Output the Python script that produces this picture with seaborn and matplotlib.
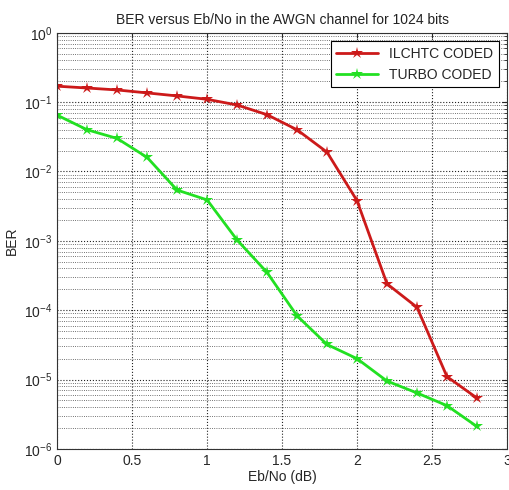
import matplotlib
matplotlib.use("Agg")
import matplotlib.pyplot as plt
import seaborn as sns
import pandas as pd
from matplotlib.ticker import LogLocator, NullFormatter

# valeurs
ebno = [0, 0.2, 0.4, 0.6, 0.8, 1.0, 1.2, 1.4, 1.6, 1.8, 2.0, 2.2, 2.4, 2.6, 2.8]
ber_ilchtc = [0.17, 0.16, 0.15, 0.136, 0.123, 0.11, 0.091, 0.066, 0.040, 0.019,
              0.0038, 2.4e-4, 1.1e-4, 1.1e-5, 5.4e-6]
ber_turbo = [0.065, 0.040, 0.030, 0.016, 0.0054, 0.0039, 0.00103, 3.5e-4, 8.3e-5,
             3.2e-5, 2.0e-5, 9.5e-6, 6.4e-6, 4.2e-6, 2.1e-6]
labels = ['ILCHTC CODED', 'TURBO CODED']

df = pd.concat([
    pd.DataFrame({'EbNo': ebno, 'BER': ber_ilchtc, 'code': labels[0]}),
    pd.DataFrame({'EbNo': ebno, 'BER': ber_turbo, 'code': labels[1]}),
])

sns.set_style("white")
plt.rcParams['font.family'] = ['Liberation Sans', 'DejaVu Sans']

fig = plt.figure(figsize=(5.1, 4.9), dpi=100)
ax = fig.add_axes([0.112, 0.084, 0.882, 0.849])

sns.lineplot(data=df, x='EbNo', y='BER', hue='code',
             palette={labels[0]: '#cc1a1a', labels[1]: '#22e022'},
             marker='*', markersize=9, markeredgewidth=0, linewidth=2,
             ax=ax)

ax.set_yscale('log')
ax.set_xlim(0, 3)
ax.set_ylim(1e-6, 1)
ax.set_xticks([0, 0.5, 1, 1.5, 2, 2.5, 3])
ax.set_xticklabels(['0', '0.5', '1', '1.5', '2', '2.5', '3'])
ax.yaxis.set_major_locator(LogLocator(base=10, numticks=10))
ax.yaxis.set_minor_locator(LogLocator(base=10, subs=range(2, 10), numticks=20))
ax.yaxis.set_minor_formatter(NullFormatter())

ax.grid(True, which='major', linestyle=':', color='#222222', linewidth=0.8)
ax.grid(True, which='minor', axis='y', linestyle=':', color='#444444', linewidth=0.6)
ax.tick_params(direction='in', top=True, right=True, which='both', labelsize=10)
for s in ax.spines.values():
    s.set_color('#333333')

ax.set_title('BER versus Eb/No in the AWGN channel for 1024 bits', fontsize=10, color='#222222')
ax.set_xlabel('Eb/No (dB)', fontsize=10, labelpad=2)
ax.set_ylabel('BER', fontsize=10)

leg = ax.legend(loc='upper right', fontsize=10, frameon=True, fancybox=False,
                edgecolor='black', framealpha=1, handlelength=3, borderaxespad=0.6)
leg.get_frame().set_linewidth(0.8)

fig.savefig('out.png', dpi=100)
